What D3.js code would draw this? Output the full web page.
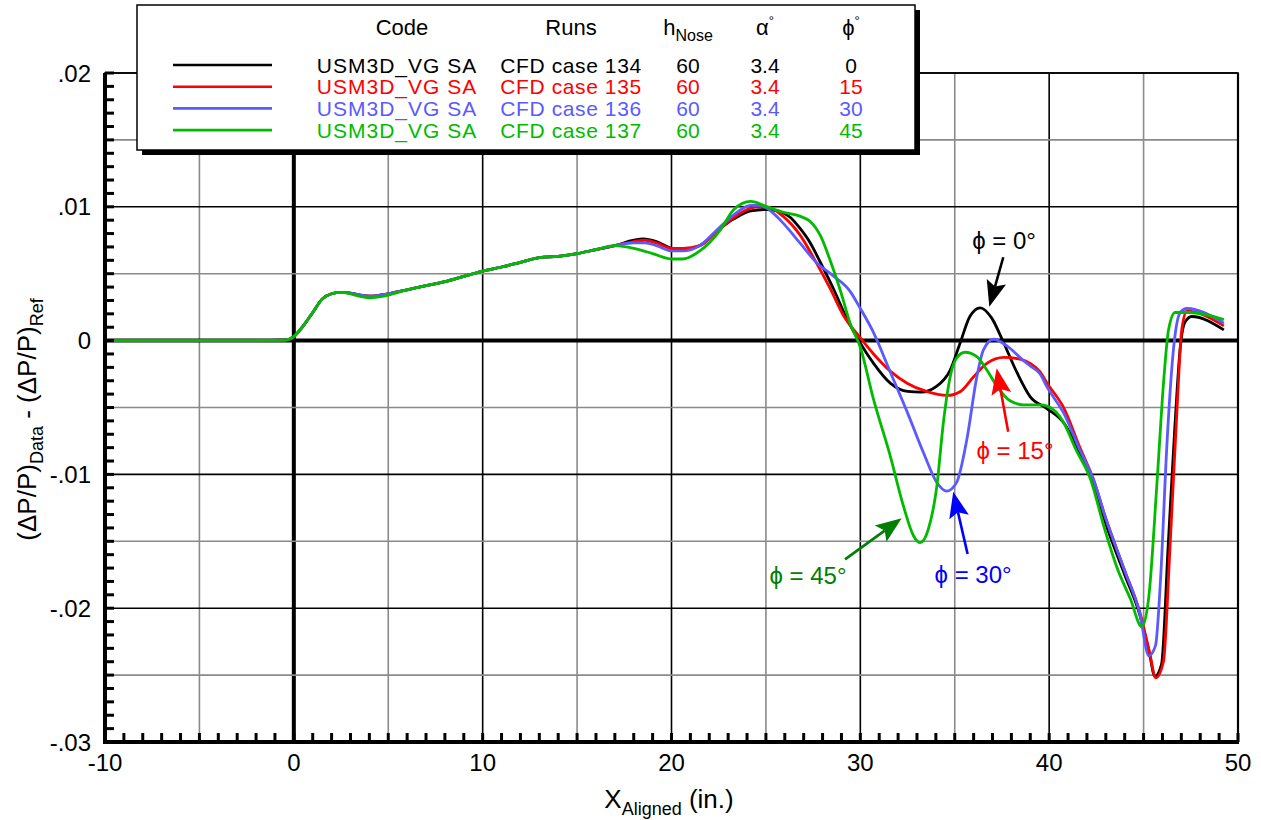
<!DOCTYPE html>
<html><head><meta charset="utf-8">
<script src="https://cdn.jsdelivr.net/npm/d3@7"></script>
<style>
body{margin:0;background:#fff}
svg{display:block}
text{font-family:"Liberation Sans",Arial,Helvetica,sans-serif}
</style>
</head><body>
<svg id="chart" width="1261" height="820"></svg>
<script>
// ---------- data ----------
const xTickValues = [-10, 0, 10, 20, 30, 40, 50];
const xTickLabels = ["-10", "0", "10", "20", "30", "40", "50"];
const yTickValues = [0.02, 0.01, 0, -0.01, -0.02, -0.03];
const yTickLabels = [".02", ".01", "0", "-.01", "-.02", "-.03"];

const case134 = [[-10,0],[-2,0],[-0.5,0.00003],[0,0.0003],[0.5,0.0011],[1,0.0021],[1.5,0.0031],[2,0.0035],[2.5,0.0036],[3,0.00355],[3.5,0.0034],[4,0.00332],[5,0.0035],[6,0.0038],[7,0.0041],[8,0.0044],[9,0.0048],[10,0.0052],[11,0.0055],[12,0.00585],[13,0.0062],[14,0.0063],[15,0.0065],[16,0.0068],[17,0.0071],[18,0.0075],[18.5,0.0076],[19.2,0.0074],[20,0.0069],[20.6,0.0068],[21.5,0.0071],[22.5,0.0083],[23.3,0.0091],[24.2,0.0097],[25,0.0098],[25.6,0.0097],[26.3,0.0092],[26.8,0.0084],[27.35,0.0073],[27.9,0.0058],[28.6,0.0038],[29.3,0.0016],[30,-0.0002],[30.7,-0.0017],[31.6,-0.0032],[32.5,-0.0038],[33.2,-0.00385],[34.05,-0.0034],[34.76,-0.0022],[35.28,-0.0002],[35.8,0.0018],[36.35,0.00245],[36.95,0.0017],[37.6,-0.0002],[38.3,-0.0024],[39,-0.0042],[39.9,-0.0051],[40.8,-0.0062],[41.6,-0.0083],[42.3,-0.0104],[43,-0.0137],[44,-0.0175],[44.8,-0.0205],[45.3,-0.0233],[45.6,-0.0251],[45.95,-0.0242],[46.3,-0.0154],[46.65,-0.0066],[46.95,-0.0004],[47.2,0.0014],[47.55,0.0018],[49.25,0.0008]];

const case135 = [[-10,0],[-2,0],[-0.5,0.00003],[0,0.0003],[0.5,0.0011],[1,0.0021],[1.5,0.0031],[2,0.0035],[2.5,0.0036],[3,0.00355],[3.5,0.0034],[4,0.00332],[5,0.0035],[6,0.0038],[7,0.0041],[8,0.0044],[9,0.0048],[10,0.0052],[11,0.0055],[12,0.00585],[13,0.0062],[14,0.0063],[15,0.0065],[16,0.0068],[17,0.0071],[18,0.0074],[18.6,0.0075],[19.2,0.0073],[20,0.0069],[20.6,0.0069],[21.5,0.0071],[22.5,0.0083],[23.3,0.0092],[24.2,0.0099],[24.6,0.0100],[25.05,0.0100],[25.9,0.0093],[26.8,0.0079],[27.6,0.006],[28.4,0.0039],[29.1,0.0019],[30,0.0002],[30.7,-0.001],[31.6,-0.0023],[32.5,-0.0032],[33.5,-0.0038],[34.6,-0.0041],[35.3,-0.0038],[36,-0.0027],[36.7,-0.0017],[37.6,-0.00125],[38.5,-0.0014],[39,-0.0017],[39.5,-0.0023],[39.9,-0.0032],[40.8,-0.0051],[41.6,-0.0079],[42.35,-0.0104],[43,-0.0133],[44,-0.0172],[44.8,-0.0203],[45.3,-0.0232],[45.65,-0.0252],[46.05,-0.024],[46.4,-0.0154],[46.76,-0.0054],[47.02,0.0008],[47.3,0.0022],[49.25,0.0011]];

const case136 = [[-10,0],[-2,0],[-0.5,0.00003],[0,0.0003],[0.5,0.0011],[1,0.0021],[1.5,0.0031],[2,0.0035],[2.5,0.0036],[3,0.00355],[3.5,0.0034],[4,0.00332],[5,0.0035],[6,0.0038],[7,0.0041],[8,0.0044],[9,0.0048],[10,0.0052],[11,0.0055],[12,0.00585],[13,0.0062],[14,0.0063],[15,0.0065],[16,0.0068],[17,0.0071],[18,0.0073],[18.6,0.0073],[19.2,0.0071],[20,0.0067],[20.6,0.0067],[21.5,0.0071],[22.5,0.0084],[23.3,0.0094],[24.2,0.0101],[24.6,0.0101],[25.05,0.0099],[25.9,0.0088],[26.8,0.0073],[27.7,0.0058],[28.6,0.0048],[29.45,0.0037],[30,0.0024],[30.7,0.0006],[31.6,-0.0024],[32.5,-0.0054],[33.35,-0.0084],[34.05,-0.0106],[34.58,-0.01125],[35.1,-0.0106],[35.64,-0.0074],[36.17,-0.0027],[36.52,-0.0007],[37.05,0.0001],[37.76,-0.0004],[38.64,-0.0015],[39,-0.0019],[39.52,-0.0025],[39.9,-0.0035],[40.8,-0.0055],[41.6,-0.0081],[42.35,-0.0104],[43,-0.0133],[44,-0.0172],[44.8,-0.0204],[45.28,-0.02356],[45.63,-0.0228],[45.9,-0.0178],[46.23,-0.0079],[46.6,-0.0004],[46.94,0.0021],[47.29,0.0024],[49.25,0.0013]];

const case137 = [[-10,0],[-2,0],[-0.5,0.00003],[0,0.0003],[0.5,0.0011],[1,0.0021],[1.5,0.0031],[2,0.0035],[2.5,0.0036],[3,0.0035],[3.5,0.0033],[4,0.0032],[5,0.0034],[6,0.0038],[7,0.0041],[8,0.0044],[9,0.0048],[10,0.0052],[11,0.0055],[12,0.00585],[13,0.0062],[14,0.0063],[15,0.0065],[16,0.0068],[17,0.0071],[18,0.0069],[19,0.0065],[20,0.0061],[20.6,0.0061],[21.5,0.0067],[22.6,0.0083],[23.3,0.0098],[24.2,0.0104],[25.05,0.0100],[25.9,0.0096],[26.8,0.0093],[27.35,0.0089],[27.9,0.0078],[28.4,0.006],[28.93,0.0038],[29.46,0.0013],[30,-0.0005],[30.7,-0.0044],[31.58,-0.0086],[32.29,-0.0124],[32.82,-0.0146],[33.17,-0.0151],[33.6,-0.0141],[34.05,-0.0109],[34.4,-0.0061],[34.76,-0.0027],[35.1,-0.0013],[35.55,-0.00087],[36.17,-0.0012],[36.7,-0.0022],[37.23,-0.0034],[37.93,-0.0045],[38.64,-0.0048],[39.5,-0.0048],[39.9,-0.0049],[40.76,-0.0061],[41.4,-0.0081],[42.2,-0.0104],[42.9,-0.0139],[43.6,-0.017],[44.3,-0.0193],[44.91,-0.0214],[45.28,-0.0191],[45.72,-0.0104],[46.07,-0.0029],[46.32,0.0008],[46.67,0.0021],[47.46,0.0021],[49.25,0.00157]];

const seriesData = [case134, case135, case136, case137];
const seriesColors = ["#000000", "#ff0000", "#5a5aff", "#00bb00"];

const legendCode = ["USM3D_VG SA", "USM3D_VG SA", "USM3D_VG SA", "USM3D_VG SA"];
const legendRuns = ["CFD case 134", "CFD case 135", "CFD case 136", "CFD case 137"];
const legendHNose = ["60", "60", "60", "60"];
const legendAlpha = ["3.4", "3.4", "3.4", "3.4"];
const legendPhi = ["0", "15", "30", "45"];

// annotations in data units: label, text position, arrow start, arrow tip
const annLabels = ["ϕ = 0°", "ϕ = 15°", "ϕ = 30°", "ϕ = 45°"];
const annColors = ["#000000", "#ff0000", "#0000ff", "#007f00"];
const annText = [[37.61, 0.00752], [38.19, -0.00818], [35.97, -0.01744], [27.23, -0.01752]];
const annFrom = [[37.57, 0.00623], [37.83, -0.00681], [35.68, -0.01595], [29.19, -0.01635]];
const annTo = [[36.83, 0.00253], [37.22, -0.00207], [34.92, -0.01129], [32.19, -0.01328]];

// ---------- drawing ----------
const svg = d3.select("#chart");
const x = d3.scaleLinear().domain([-10, 50]).range([105, 1238]);
const y = d3.scaleLinear().domain([-0.03, 0.02]).range([742, 73]);
const [x0, x1] = x.range();
const [y0, y1] = y.range();

// grid
const gx = d3.range(-5, 50, 5);
const gy = d3.range(-0.025, 0.0201, 0.005).map(v => +v.toFixed(4));
svg.append("g").selectAll("line").data(gx).join("line")
  .attr("x1", d => x(d)).attr("x2", d => x(d)).attr("y1", y1).attr("y2", y0)
  .attr("stroke", d => d % 10 === 0 ? "#000" : "#8a8a8a")
  .attr("stroke-width", d => d === 0 ? 4 : 1.6);
svg.append("g").selectAll("line").data(gy).join("line")
  .attr("y1", d => y(d)).attr("y2", d => y(d)).attr("x1", x0).attr("x2", x1)
  .attr("stroke", d => Math.abs(Math.round(d * 1000)) % 10 === 0 ? "#000" : "#8a8a8a")
  .attr("stroke-width", d => Math.abs(d) < 1e-9 ? 4 : 1.6);

// frame
svg.append("rect").attr("x", x0).attr("y", y1).attr("width", x1 - x0).attr("height", y0 - y1)
  .attr("fill", "none").attr("stroke", "#000").attr("stroke-width", 1.6);
svg.append("line").attr("x1", x1).attr("x2", x1).attr("y1", y1).attr("y2", y0).attr("stroke", "#000").attr("stroke-width", 2.2);

// curves
const line = d3.line().x(d => x(d[0])).y(d => y(d[1])).curve(d3.curveMonotoneX);
svg.append("g").selectAll("path").data(seriesData).join("path")
  .attr("d", line).attr("fill", "none")
  .attr("stroke", (d, i) => seriesColors[i]).attr("stroke-width", 2.8)
  .attr("stroke-linejoin", "round");

// axes (thick left/bottom with inward ticks)
const xMinor = d3.range(-10, 50.001, 1);
const yMinor = d3.range(-30, 20.001, 1).map(v => v / 1000);
svg.append("g").selectAll("line").data(xMinor).join("line")
  .attr("x1", d => x(d)).attr("x2", d => x(d)).attr("y1", y0).attr("y2", y0 - 9)
  .attr("stroke", "#000").attr("stroke-width", 3);
svg.append("g").selectAll("line").data(yMinor).join("line")
  .attr("y1", d => y(d)).attr("y2", d => y(d)).attr("x1", x0).attr("x2", x0 + 9)
  .attr("stroke", "#000").attr("stroke-width", 3);
svg.append("line").attr("x1", x0).attr("x2", x0).attr("y1", y1).attr("y2", y0 + 2)
  .attr("stroke", "#000").attr("stroke-width", 4);
svg.append("line").attr("x1", x0 - 2).attr("x2", x1 + 1).attr("y1", y0).attr("y2", y0)
  .attr("stroke", "#000").attr("stroke-width", 4);

// tick labels
svg.append("g").selectAll("text").data(xTickValues).join("text")
  .attr("x", d => x(d)).attr("y", y0 + 29).attr("text-anchor", "middle")
  .attr("font-size", 24).text((d, i) => xTickLabels[i]);
svg.append("g").selectAll("text").data(yTickValues).join("text")
  .attr("x", x0 - 14).attr("y", d => y(d) + 8.5).attr("text-anchor", "end")
  .attr("font-size", 24).text((d, i) => yTickLabels[i]);

// axis titles
const xt = svg.append("text").attr("x", 669).attr("y", 808).attr("text-anchor", "middle").attr("font-size", 26);
xt.append("tspan").text("X");
xt.append("tspan").attr("font-size", 18).attr("dy", 7).text("Aligned");
xt.append("tspan").attr("dy", -7).text(" (in.)");

const yt = svg.append("text").attr("transform", `translate(36,${(y0 + y1) / 2 + 12}) rotate(-90)`)
  .attr("text-anchor", "middle").attr("font-size", 26);
yt.append("tspan").text("(ΔP/P)");
yt.append("tspan").attr("font-size", 18).attr("dy", 7).text("Data");
yt.append("tspan").attr("dy", -7).text(" - (ΔP/P)");
yt.append("tspan").attr("font-size", 18).attr("dy", 7).text("Ref");

// annotations
annLabels.forEach((lab, i) => {
  const [tx, ty] = annText[i];
  svg.append("text").attr("x", x(tx)).attr("y", y(ty) + 9).attr("text-anchor", "middle")
    .attr("font-size", 24).attr("fill", annColors[i]).text(lab);
  const ax = x(annFrom[i][0]), ay = y(annFrom[i][1]);
  const bx = x(annTo[i][0]), by = y(annTo[i][1]);
  const ang = Math.atan2(by - ay, bx - ax);
  const L = 26, W = 10, N = 5;
  const ux = Math.cos(ang), uy = Math.sin(ang), px = -uy, py = ux;
  svg.append("line").attr("x1", ax).attr("y1", ay).attr("x2", bx - ux * (L - N)).attr("y2", by - uy * (L - N))
    .attr("stroke", annColors[i]).attr("stroke-width", 2.6);
  const pts = [[bx, by], [bx - ux * L + px * W, by - uy * L + py * W], [bx - ux * (L - N), by - uy * (L - N)], [bx - ux * L - px * W, by - uy * L - py * W]];
  svg.append("polygon").attr("points", pts.map(p => p.join(",")).join(" ")).attr("fill", annColors[i]);
});

// legend
const lg = svg.append("g");
lg.append("rect").attr("x", 142).attr("y", 10).attr("width", 778).attr("height", 145).attr("fill", "#000");
lg.append("rect").attr("x", 137).attr("y", 5).attr("width", 778).attr("height", 145)
  .attr("fill", "#fff").attr("stroke", "#000").attr("stroke-width", 1.5);
const colX = [397, 571, 688, 765, 851];
const hy = 35;
const fs = 21;
lg.append("text").attr("x", colX[0] + 5).attr("y", hy).attr("text-anchor", "middle").attr("font-size", 22).text("Code");
lg.append("text").attr("x", colX[1]).attr("y", hy).attr("text-anchor", "middle").attr("font-size", 22).text("Runs");
const hn = lg.append("text").attr("x", colX[2]).attr("y", hy).attr("text-anchor", "middle").attr("font-size", 22);
hn.append("tspan").text("h");
hn.append("tspan").attr("font-size", 16).attr("dy", 6).text("Nose");
const al = lg.append("text").attr("x", colX[3]).attr("y", hy).attr("text-anchor", "middle").attr("font-size", 22);
al.append("tspan").text("α");
al.append("tspan").attr("font-size", 13).attr("dy", -10).text("°");
const ph = lg.append("text").attr("x", colX[4]).attr("y", hy).attr("text-anchor", "middle").attr("font-size", 22);
ph.append("tspan").text("ϕ");
ph.append("tspan").attr("font-size", 13).attr("dy", -10).text("°");

const rowY = i => 65 + i * 21.7;
const colSpacing = [1.0, 0.6, 0, 0, 0];
seriesColors.forEach((c, i) => {
  lg.append("line").attr("x1", 173).attr("x2", 272).attr("y1", rowY(i)).attr("y2", rowY(i))
    .attr("stroke", c).attr("stroke-width", 2.6);
  const cols = [legendCode[i], legendRuns[i], legendHNose[i], legendAlpha[i], legendPhi[i]];
  cols.forEach((t, j) => {
    lg.append("text").attr("x", colX[j]).attr("y", rowY(i) + 7.5).attr("text-anchor", "middle")
      .attr("font-size", fs).attr("letter-spacing", colSpacing[j]).attr("fill", c).text(t);
  });
});
</script>
</body></html>
